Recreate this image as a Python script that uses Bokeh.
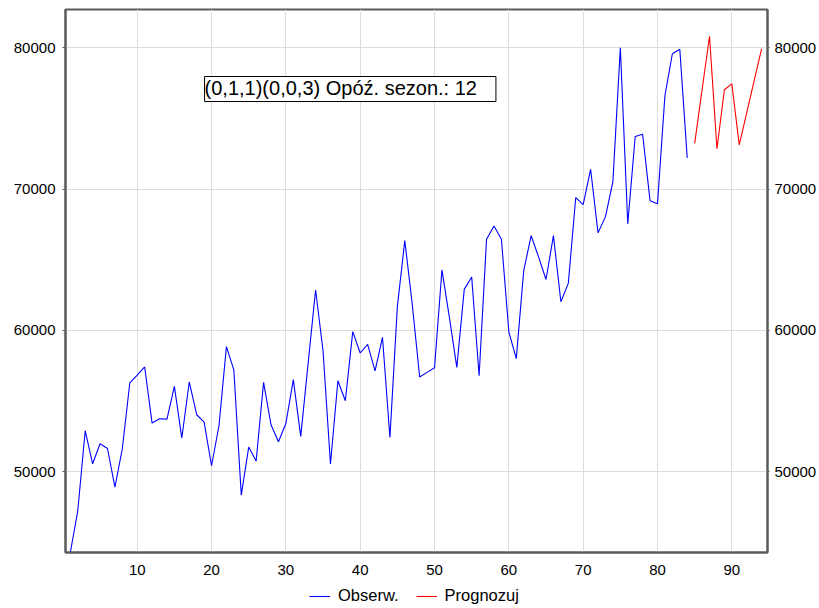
from bokeh.plotting import figure
from bokeh.layouts import column
from bokeh.models import Range1d, LinearAxis, FixedTicker, Legend, LegendItem, Label
from bokeh.embed import file_html
from bokeh.resources import INLINE

# ---- data ----
x_obs = list(range(1, 85))
y_obs = [44280, 47230, 52900, 50560, 51980, 51640, 48910, 51640, 56280, 56840,
         57410, 53440, 53750, 53720, 56040, 52380, 56350, 54030, 53510, 50420,
         53250, 58850, 57200, 48340, 51740, 50750, 56320, 53320, 52120, 53410,
         56510, 52500, 57700, 62860, 58560, 50540, 56440, 55020, 59910, 58400,
         59010, 57130, 59510, 52420, 61680, 66350, 61870, 56700, 57030, 57360,
         64280, 60920, 57380, 62900, 63780, 56790, 66450, 67390, 66450, 59900,
         58000, 64230, 66700, 65200, 63600, 66700, 62030, 63330, 69400, 68900,
         71400, 66900, 68050, 70530, 80000, 67540, 73720, 73880, 69170, 68970,
         76620, 79580, 79900, 72210]
x_fc = list(range(85, 95))
y_fc = [73240, 77030, 80820, 72850, 77030, 77450, 73130, 75400, 77660, 79930]
x_ticks = [10, 20, 30, 40, 50, 60, 70, 80, 90]
y_ticks = [50000, 60000, 70000, 80000]
series_names = ["Obserw.", "Prognozuj"]
series_colors = ["#0000ff", "#ff0000"]
annotation = "(0,1,1)(0,0,3) Opóź. sezon.: 12"

FONT = "Liberation Sans"
FRAME = "#5a5a5a"
GRID = "#dcdcdc"

p = figure(width=819, height=582, output_backend="svg", toolbar_location=None,
           x_range=Range1d(0.35, 94.8), y_range=Range1d(44280, 82710),
           min_border_left=65, min_border_right=52, min_border_top=9,
           min_border_bottom=30, background_fill_color="white",
           border_fill_color="white")

p.outline_line_color = FRAME
p.outline_line_width = 2

# grids
p.xgrid.ticker = FixedTicker(ticks=x_ticks)
p.ygrid.ticker = FixedTicker(ticks=y_ticks)
for g in (p.xgrid, p.ygrid):
    g.grid_line_color = GRID
    g.grid_line_width = 1

# axes
xa = p.xaxis[0]
xa.ticker = FixedTicker(ticks=x_ticks)
ya = p.yaxis[0]
ya.ticker = FixedTicker(ticks=y_ticks)
ra = LinearAxis(ticker=FixedTicker(ticks=y_ticks))
p.add_layout(ra, "right")

for ax in (xa, ya, ra):
    ax.axis_line_color = FRAME
    ax.axis_line_width = 2
    ax.major_tick_line_color = FRAME
    ax.minor_tick_line_color = None
    ax.major_label_text_font = FONT
    ax.major_label_text_font_size = "15px"
    ax.major_label_text_color = "black"
    ax.major_tick_in = 0

xa.major_tick_out = 0
xa.major_label_standoff = 12
ya.major_tick_out = 3
ya.major_label_standoff = 7
ra.major_tick_out = 2
ra.major_label_standoff = 5

# lines
p.line(x_obs, y_obs, line_color=series_colors[0], line_width=1.1)
p.line(x_fc, y_fc, line_color=series_colors[1], line_width=1.1)

# annotation box
lab = Label(x=19.06, y=77967, x_units="data", y_units="data", text=annotation,
            text_font=FONT, text_font_size="20px", text_color="black",
            text_align="left", text_baseline="top",
            border_line_color="black", border_line_width=1,
            background_fill_color="white", padding=(0, 19, 0, 3))
p.add_layout(lab)

# legend strip below the chart
lf = figure(width=819, height=26, output_backend="svg", toolbar_location=None,
            x_range=Range1d(0.35, 94.8), y_range=Range1d(44280, 82710),
            x_axis_type=None, y_axis_type=None, min_border=0,
            outline_line_color=None, background_fill_color="white",
            border_fill_color="white")
lf.grid.visible = False
l_obs = lf.line(x_obs, y_obs, line_color=series_colors[0], line_width=1.1, visible=False)
l_fc = lf.line(x_fc, y_fc, line_color=series_colors[1], line_width=1.1, visible=False)
legend = Legend(items=[LegendItem(label=series_names[0], renderers=[l_obs]),
                       LegendItem(label=series_names[1], renderers=[l_fc])],
                orientation="horizontal", location=(244, 3),
                border_line_alpha=0, background_fill_alpha=0,
                inactive_fill_alpha=0,
                label_text_font=FONT, label_text_font_size="16.5px",
                label_text_color="black",
                glyph_width=21, glyph_height=14, label_standoff=8,
                spacing=17, padding=0, margin=0)
lf.add_layout(legend)

layout = column(p, lf, spacing=0)
open("out.html", "w").write(file_html(layout, INLINE))
